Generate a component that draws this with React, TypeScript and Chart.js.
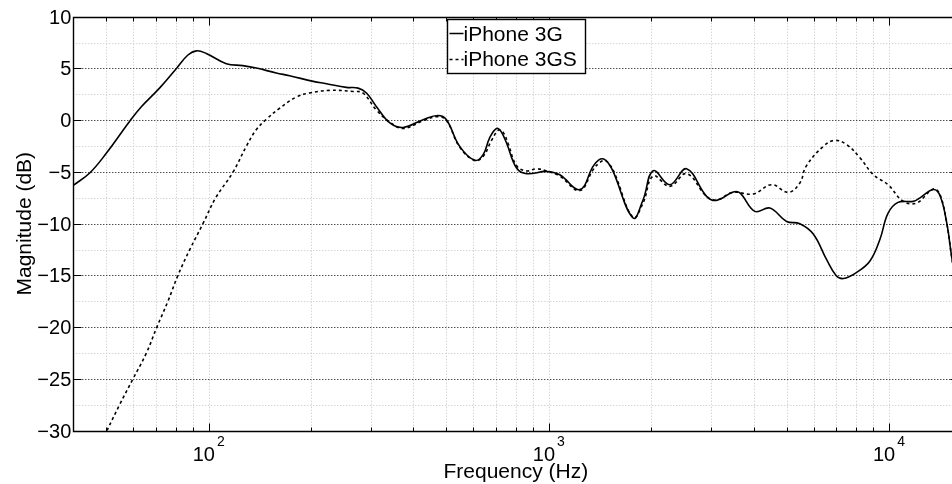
import React, { useEffect, useRef } from "react";
import { Chart, registerables } from "chart.js";

Chart.register(...registerables);

// ---- Data ----
const freq3G = [
  40, 44.7, 50, 58.6, 63.4, 71.7, 80.4, 86.9, 92, 98.4, 112.7, 126, 138, 158, 173, 203, 222, 254, 275, 291,
  311, 341, 373, 427, 472, 500, 547, 606, 641, 670, 702, 724, 751, 804, 860, 985, 1077, 1233, 1349, 1400, 1450, 1500, 1545,
  1770, 1893, 2027, 2269, 2541, 2909, 3113, 3484, 3646, 4036, 4467, 5000, 5470, 5990, 6558, 6990, 7343, 8035,
  8793, 9409, 9933, 10630, 11790, 12340, 13500, 14130, 14780, 15290, 16000,
];
const mag3G = [
  -6.3, -5.1, -3.2, -0.1, 1.3, 3.1, 5.0, 6.3, 6.7, 6.45, 5.46, 5.27, 5.04, 4.56, 4.3, 3.75, 3.53, 3.17, 3.1, 2.63,
  1.33, -0.27, -0.7, 0.05, 0.45, 0.05, -2.53, -3.88, -3.33, -1.7, -0.8, -1.1, -2.2, -4.62, -5.17, -4.95, -5.27, -6.71, -4.46, -3.85, -3.75, -4.2, -4.95,
  -9.45, -7.68, -4.88, -6.23, -4.69, -7.36, -7.75, -6.94, -7.03, -8.81, -8.49, -9.78, -10.0, -11.0, -13.48, -15.0, -15.3, -14.7,
  -13.6, -11.5, -9.0, -7.94, -7.84, -7.5, -6.7, -7.3, -9.9, -13.2, -17.0,
];

const freq3GS = [
  50.2, 54.7, 59.9, 65.6, 70.4, 75.9, 81.2, 88, 96.2, 104.9, 118, 129, 138, 148, 162, 181, 198, 227, 266, 284,
  311, 341, 373, 427, 472, 500, 547, 606, 641, 680, 712, 735, 760, 804, 860, 920, 985, 1077, 1233, 1349, 1410, 1460, 1510, 1560,
  1770, 1893, 2027, 2269, 2541, 2909, 3113, 3484, 3990, 4518, 5057, 5470, 5706, 6412, 6936, 7515, 8226,
  8995, 9933, 11020, 12060, 13500, 14130, 14780, 15290, 16000,
];
const mag3GS = [
  -30, -27.5, -25, -22.5, -20, -17.5, -15, -12.5, -10, -7.5, -5.0, -2.53, -0.92, 0.11, 1.18, 2.24, 2.63, 2.88, 2.78, 2.63,
  1.0, -0.2, -0.8, -0.05, 0.35, 0.0, -2.6, -3.9, -3.5, -1.9, -0.95, -1.2, -2.3, -4.4, -4.9, -4.7, -4.9, -5.4, -6.8, -4.8, -4.1, -3.9, -4.3, -5.1,
  -9.4, -8.0, -5.4, -6.39, -5.17, -7.36, -7.7, -6.97, -7.13, -6.23, -6.97, -6.07, -4.46, -2.53, -1.95, -2.37, -3.65,
  -5.27, -6.23, -7.84, -8.0, -6.65, -7.2, -9.9, -13.2, -17.0,
];

const seriesNames = ["iPhone 3G", "iPhone 3GS"];
const xMin = 40;
const xMax = 16000;
const yMin = -30;
const yMax = 10;
const yMajorTicks = [10, 5, 0, -5, -10, -15, -20, -25, -30];
const yMinorTicks = [7.5, 2.5, -2.5, -7.5, -12.5, -17.5, -22.5, -27.5];
const xDecadeExps = [2, 3, 4];

const FONT = '"Liberation Sans", Arial, Helvetica, sans-serif';
const DASH = [3, 3];

const W = 1000;
const H = 484;

function minorFreqs(): number[] {
  const out: number[] = [];
  for (let d = 1; d <= 4; d++) {
    for (let m = 2; m <= 9; m++) {
      const f = m * Math.pow(10, d);
      if (f > xMin && f < xMax) out.push(f);
    }
  }
  return out;
}

const decorPlugin = {
  id: "matlabDecor",
  beforeDatasetsDraw(chart: any) {
    const { ctx, chartArea: a, scales } = chart;
    const xs = scales.x;
    const ys = scales.y;
    ctx.save();
    ctx.beginPath();
    ctx.rect(a.left, a.top, a.right - a.left, a.bottom - a.top);
    ctx.clip();
    ctx.lineWidth = 1;
    ctx.setLineDash([1, 2]);
    ctx.strokeStyle = "#c4c4c4";
    const vlines = minorFreqs().concat(xDecadeExps.map((e) => Math.pow(10, e)));
    for (const f of vlines) {
      const px = Math.round(xs.getPixelForValue(f)) + 0.5;
      ctx.beginPath();
      ctx.moveTo(px, a.top);
      ctx.lineTo(px, a.bottom);
      ctx.stroke();
    }
    for (const v of yMinorTicks) {
      const py = Math.round(ys.getPixelForValue(v)) + 0.5;
      ctx.beginPath();
      ctx.moveTo(a.left, py);
      ctx.lineTo(a.right, py);
      ctx.stroke();
    }
    ctx.strokeStyle = "#000";
    for (const v of yMajorTicks) {
      if (v === yMin || v === yMax) continue;
      const py = Math.round(ys.getPixelForValue(v)) + 0.5;
      ctx.beginPath();
      ctx.moveTo(a.left, py);
      ctx.lineTo(a.right, py);
      ctx.stroke();
    }
    ctx.restore();
  },
  afterDatasetsDraw(chart: any) {
    const { ctx, chartArea: a, scales } = chart;
    const xs = scales.x;
    const ys = scales.y;
    ctx.save();
    ctx.setLineDash([]);
    ctx.strokeStyle = "#000";
    ctx.lineWidth = 1.4;
    const L = Math.round(a.left) + 0.5;
    const T = Math.round(a.top) + 0.5;
    const B = Math.round(a.bottom) + 0.5;
    const R = Math.round(a.right) + 0.5;
    ctx.beginPath();
    ctx.moveTo(L, T);
    ctx.lineTo(R, T);
    ctx.lineTo(R, B);
    ctx.lineTo(L, B);
    ctx.closePath();
    ctx.stroke();
    ctx.lineWidth = 1;
    const tickX = (f: number, len: number) => {
      const px = Math.round(xs.getPixelForValue(f)) + 0.5;
      ctx.beginPath();
      ctx.moveTo(px, B);
      ctx.lineTo(px, B - len);
      ctx.moveTo(px, T);
      ctx.lineTo(px, T + len);
      ctx.stroke();
    };
    for (const f of minorFreqs()) tickX(f, 4);
    for (const e of xDecadeExps) tickX(Math.pow(10, e), 8);
    for (const v of yMajorTicks) {
      const py = Math.round(ys.getPixelForValue(v)) + 0.5;
      ctx.beginPath();
      ctx.moveTo(L, py);
      ctx.lineTo(L + 8, py);
      ctx.moveTo(R, py);
      ctx.lineTo(R - 8, py);
      ctx.stroke();
    }
    ctx.fillStyle = "#000";
    ctx.font = `20px ${FONT}`;
    ctx.textAlign = "right";
    ctx.textBaseline = "middle";
    for (const v of yMajorTicks) {
      const py = ys.getPixelForValue(v);
      const label = v < 0 ? "\u2212" + Math.abs(v) : String(v);
      ctx.fillText(label, a.left - 2, py + 1.5);
    }
    ctx.textAlign = "left";
    ctx.textBaseline = "alphabetic";
    for (const e of xDecadeExps) {
      const px = xs.getPixelForValue(Math.pow(10, e));
      ctx.font = `20px ${FONT}`;
      const wBase = ctx.measureText("10").width;
      ctx.font = `14px ${FONT}`;
      const wSup = ctx.measureText(String(e)).width;
      const gap = 2;
      const start = px - (wBase + gap + wSup) / 2;
      ctx.font = `20px ${FONT}`;
      ctx.fillText("10", start, 460.5);
      ctx.font = `14px ${FONT}`;
      ctx.fillText(String(e), start + wBase + gap, 446);
    }
    ctx.font = `21px ${FONT}`;
    ctx.textAlign = "center";
    ctx.textBaseline = "alphabetic";
    const cx = (a.left + a.right) / 2;
    ctx.fillText("Frequency (Hz)", cx, 477.5);
    ctx.save();
    ctx.translate(31, (a.top + a.bottom) / 2);
    ctx.rotate(-Math.PI / 2);
    ctx.fillText("Magnitude (dB)", 0, 0);
    ctx.restore();
    // legend
    const lw = 138;
    const lx = Math.round(cx - lw / 2) + 0.5;
    const ly = 19.5;
    const lh = 54;
    ctx.fillStyle = "#fff";
    ctx.fillRect(lx, ly, lw, lh);
    ctx.strokeStyle = "#000";
    ctx.lineWidth = 1.4;
    ctx.strokeRect(lx, ly, lw, lh);
    ctx.lineWidth = 1.5;
    ctx.beginPath();
    ctx.moveTo(lx + 2, 33.5);
    ctx.lineTo(lx + 16, 33.5);
    ctx.stroke();
    ctx.setLineDash(DASH);
    ctx.beginPath();
    ctx.moveTo(lx + 2, 59.5);
    ctx.lineTo(lx + 16, 59.5);
    ctx.stroke();
    ctx.setLineDash([]);
    ctx.fillStyle = "#000";
    ctx.font = `21px ${FONT}`;
    ctx.textAlign = "left";
    ctx.fillText(seriesNames[0], lx + 16, 40.7);
    ctx.fillText(seriesNames[1], lx + 16, 66);
    ctx.restore();
  },
};

export default function App() {
  const canvasRef = useRef<HTMLCanvasElement | null>(null);

  useEffect(() => {
    if (!canvasRef.current) return;
    const plotLeft = 73.3;
    const plotTop = 16.7;
    const plotBottom = 430.7;
    const plotRight = 958.4;
    const chart = new Chart(canvasRef.current, {
      type: "line",
      data: {
        datasets: [
          {
            label: seriesNames[0],
            data: freq3G.map((f, i) => ({ x: f, y: mag3G[i] })),
            borderColor: "#000",
            borderWidth: 1.6,
            pointRadius: 0,
            fill: false,
            tension: 0.4,
          },
          {
            label: seriesNames[1],
            data: freq3GS.map((f, i) => ({ x: f, y: mag3GS[i] })),
            borderColor: "#000",
            borderWidth: 1.6,
            borderDash: DASH,
            pointRadius: 0,
            fill: false,
            tension: 0.4,
          },
        ],
      },
      options: {
        animation: false,
        responsive: false,
        devicePixelRatio: 1,
        layout: {
          padding: {
            left: plotLeft,
            top: plotTop,
            right: W - plotRight,
            bottom: H - plotBottom,
          },
        },
        plugins: {
          legend: { display: false },
          tooltip: { enabled: false },
        },
        scales: {
          x: { type: "logarithmic", min: xMin, max: xMax, display: false },
          y: { type: "linear", min: yMin, max: yMax, display: false },
        },
      },
      plugins: [decorPlugin],
    });
    return () => chart.destroy();
  }, []);

  return (
    <div
      style={{
        position: "fixed",
        left: 0,
        top: 0,
        width: 952,
        height: 484,
        overflow: "hidden",
        background: "#fff",
      }}
    >
      <canvas ref={canvasRef} width={W} height={H} style={{ display: "block" }} />
    </div>
  );
}
